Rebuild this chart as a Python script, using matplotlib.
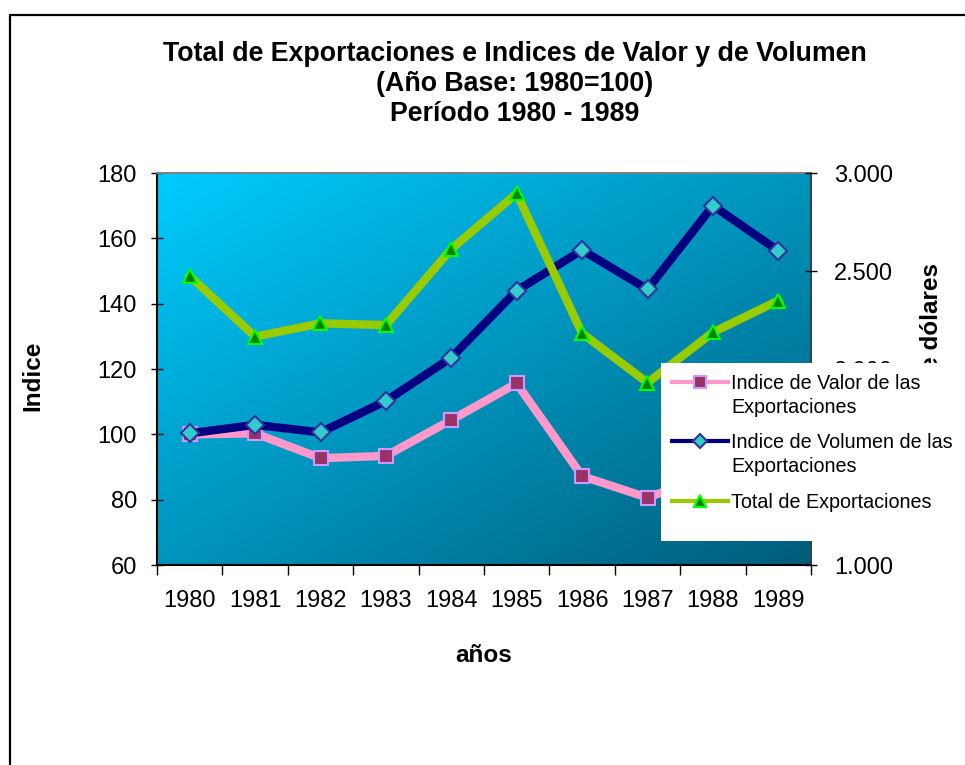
import numpy as np
import matplotlib
matplotlib.use("Agg")
import matplotlib.pyplot as plt
from matplotlib.lines import Line2D
from matplotlib.patches import Rectangle
from matplotlib.ticker import FuncFormatter, MultipleLocator

plt.rcParams['font.family'] = ['Liberation Sans', 'DejaVu Sans']

# data
years = ['1980', '1981', '1982', '1983', '1984', '1985', '1986', '1987', '1988', '1989']
valor = [100.0, 100.3, 92.7, 93.4, 104.4, 115.6, 87.2, 80.6, 88.0, 95.0]
volumen = [100.3, 102.9, 100.6, 110.2, 123.5, 144.0, 156.4, 144.4, 170.0, 156.2]
total_export = [2474, 2165, 2233, 2224, 2612, 2896, 2182, 1930, 2187, 2349]

series_labels = ['Indice de Valor de las\nExportaciones',
                 'Indice de Volumen de las\nExportaciones',
                 'Total de Exportaciones']

W, H = 965, 765
fig = plt.figure(figsize=(W / 100, H / 100), dpi=100)
ax = fig.add_axes([157 / W, 1 - 565 / H, (811 - 157) / W, (565 - 173) / H])

# gradient background (light cyan top-left -> dark teal bottom-right)
n = 200
gx, gy = np.meshgrid(np.linspace(0, 1, n), np.linspace(0, 1, n))
t = (gx + gy) / 2
c0 = np.array([0, 204, 255]) / 255
c1 = np.array([0, 92, 122]) / 255
img = c0[None, None, :] * (1 - t[..., None]) + c1[None, None, :] * t[..., None]
ax.imshow(img, extent=[0, 1, 0, 1], transform=ax.transAxes, aspect='auto',
          zorder=0, origin='upper')

styles = [
    dict(color='#FF99CC', marker='s', mfc='#993366', mec='#CC99FF', mew=1.5),
    dict(color='#000080', marker='D', mfc='#33CCCC', mec='#333399', mew=1.5),
    dict(color='#99CC00', marker='^', mfc='#008000', mec='#00FF00', mew=1.5),
]

x = np.arange(len(years))
ax.plot(x, valor, lw=6, ms=10, zorder=3, **styles[0])
ax.plot(x, volumen, lw=6, ms=9, zorder=4, **styles[1])

ax.set_xlim(-0.5, 9.5)
ax.set_ylim(60, 180)
ax.yaxis.set_major_locator(MultipleLocator(20))
ax.set_xticks(np.arange(-0.5, 10, 1))
ax.set_xticklabels([])
ax.set_xticks(x, minor=True)
ax.set_xticklabels(years, minor=True)
ax.tick_params(axis='x', which='major', direction='out', length=7, width=1)
ax.tick_params(axis='x', which='minor', length=0, pad=18, labelsize=17)
ax.tick_params(axis='y', direction='inout', length=9, width=1, pad=10, labelsize=17)

ax.spines['left'].set_color('black')
ax.spines['bottom'].set_color('black')
ax.spines['top'].set_color('#808080')
ax.spines['right'].set_color('#404040')
for s in ax.spines.values():
    s.set_linewidth(1.5)

ax2 = ax.twinx()
ax2.plot(x, total_export, lw=6, ms=10, zorder=5, **styles[2])
ax2.set_ylim(1000, 3000)
ax2.yaxis.set_major_locator(MultipleLocator(500))
ax2.yaxis.set_major_formatter(FuncFormatter(lambda v, p: f"{int(v):,}".replace(',', '.')))
ax2.tick_params(axis='y', direction='inout', length=9, width=1, pad=12, labelsize=17)
for s in ax2.spines.values():
    s.set_visible(False)

# axis titles
fig.text(33 / W, 1 - 376 / H, 'Indice', rotation=90, ha='center', va='center',
         fontsize=17.5, fontweight='bold')
fig.text(484 / W, 1 - 655 / H, 'años', ha='center', va='center',
         fontsize=17.5, fontweight='bold')
fig.text(931 / W, 1 - 376 / H, 'Millones de dólares', rotation=90, ha='center',
         va='center', fontsize=17.5, fontweight='bold')

fig.text(515 / W, 1 - 41 / H,
         'Total de Exportaciones e Indices de Valor y de Volumen\n(Año Base: 1980=100)\nPeríodo 1980 - 1989',
         ha='center', va='top', fontsize=19.3, fontweight='bold', linespacing=1.2)

# outer chart border (left and top only visible)
fig.add_artist(Line2D([10 / W, 10 / W, 1], [0, 1 - 15 / H, 1 - 15 / H],
                      transform=fig.transFigure, color='black', lw=1.6))

# legend: white box covering part of the chart, handles aligned with first text line
fig.add_artist(Rectangle((661 / W, 1 - 541 / H), (962 - 661) / W, (541 - 363) / H,
                         transform=fig.transFigure, facecolor='white',
                         edgecolor='none', zorder=10))
leg_rows = [382, 441, 501]
leg_ms = [9, 7, 9]
for row, st, ms, lab in zip(leg_rows, styles, leg_ms, series_labels):
    yf = 1 - row / H
    fig.add_artist(Line2D([672 / W, 728 / W], [yf, yf], transform=fig.transFigure,
                          color=st['color'], lw=3, zorder=11))
    fig.add_artist(Line2D([700 / W], [yf], transform=fig.transFigure, ms=ms,
                          marker=st['marker'], mfc=st['mfc'], mec=st['mec'],
                          mew=st['mew'], ls='none', zorder=12))
    fig.text(731 / W, 1 - (row - 8) / H, lab, ha='left', va='top',
             fontsize=14.2, linespacing=1.3, zorder=12)

fig.savefig('out.png', dpi=100)
